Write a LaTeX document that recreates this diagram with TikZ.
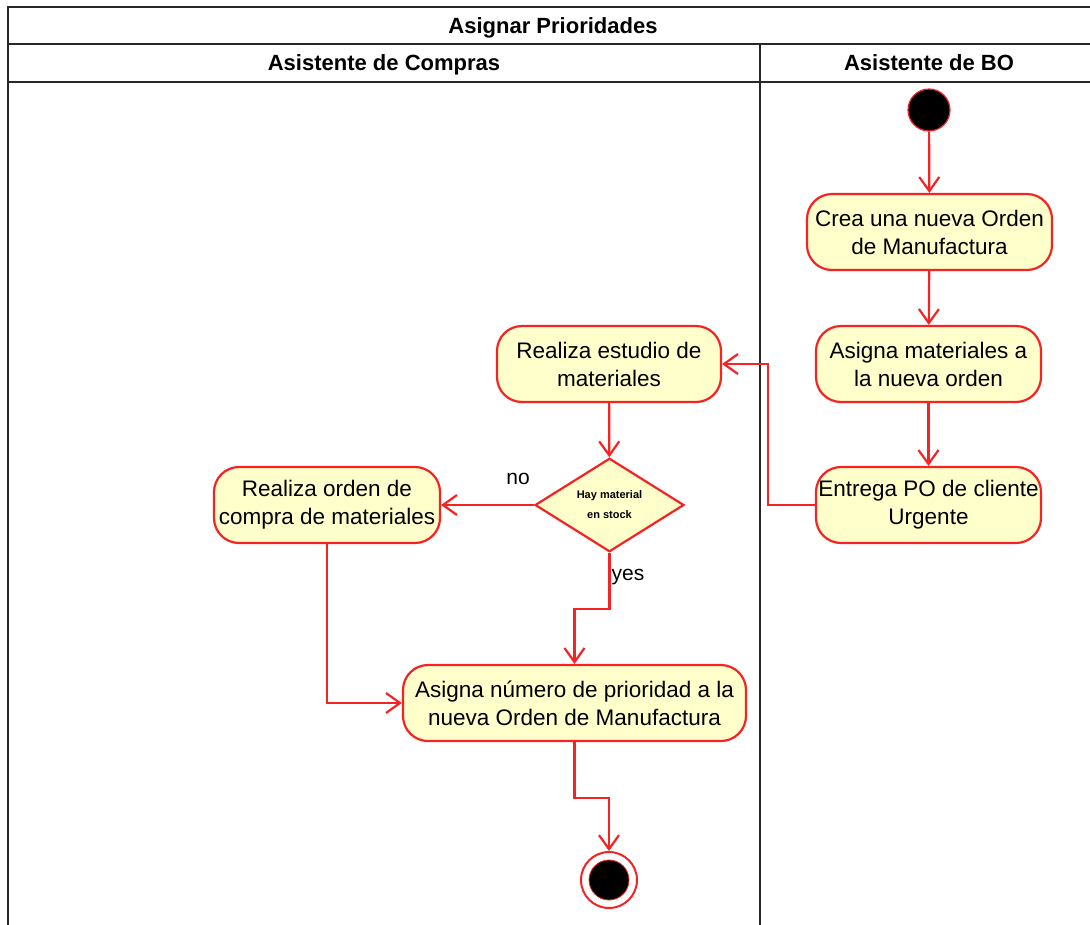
\documentclass[tikz,border=0pt]{standalone}
\usepackage{fontspec}
\setmainfont{Liberation Sans}
\usetikzlibrary{arrows.meta,shapes.geometric}
\definecolor{umlred}{RGB}{245,35,35}
\definecolor{umlfill}{RGB}{255,255,204}
\definecolor{framegray}{RGB}{40,40,40}
\tikzset{
  activity/.style={draw=umlred, line width=2.2pt, fill=umlfill, rounded corners=25pt,
    align=center, inner sep=0pt, font=\fontsize{22.5}{28}\selectfont, text=black},
  decision/.style={draw=umlred, line width=2.2pt, fill=umlfill, diamond, inner sep=0pt,
    minimum width=149pt, minimum height=92pt, align=center,
    font=\bfseries\fontsize{11}{20}\selectfont},
  flow/.style={draw=umlred, line width=2.2pt, -{Straight Barb[length=14pt,width=20pt,line width=2.2pt]}},
  guard/.style={fill=white, inner sep=1pt, font=\fontsize{21}{24}\selectfont},
  frameline/.style={draw=framegray, line width=2pt},
  lanehead/.style={anchor=base, font=\bfseries\fontsize{22}{26}\selectfont}
}
\begin{document}
\begin{tikzpicture}[x=1pt,y=-1pt]
  \useasboundingbox (0,0) rectangle (1090,924);
  \clip (0,0) rectangle (1090,924);
  \fill[white] (0,0) rectangle (1090,924);

  % swimlane frame
  \draw[frameline] (8,940) -- (8,7) -- (1098,7) -- (1098,940);
  \draw[frameline] (8,44) -- (1098,44);
  \draw[frameline] (8,82) -- (1098,82);
  \draw[frameline] (760,44) -- (760,940);
  \node[lanehead] (title) at (553,33) {Asignar Prioridades};
  \node[lanehead] (laneA) at (384,70) {Asistente de Compras};
  \node[lanehead] (laneB) at (929,70) {Asistente de BO};

  % activities
  \node[circle, draw=umlred, line width=1.2pt, fill=black, minimum size=42pt, inner sep=0pt] (start) at (929,110) {};
  \node[activity, minimum width=245pt, minimum height=76pt] (crea) at (929.5,232) {Crea una nueva Orden\\de Manufactura};
  \node[activity, minimum width=225pt, minimum height=76pt] (asigmat) at (928.5,364) {Asigna materiales a\\la nueva orden};
  \node[activity, minimum width=225pt, minimum height=76pt] (entrega) at (928.5,505) {Entrega PO de cliente\\Urgente};
  \node[activity, minimum width=224pt, minimum height=76pt] (estudio) at (609,364) {Realiza estudio de\\materiales};
  \node[decision] (dec) at (609.5,505) {Hay material\\en stock};
  \node[activity, minimum width=226pt, minimum height=76pt] (orden) at (327,505) {Realiza orden de\\compra de materiales};
  \node[activity, minimum width=343pt, minimum height=76pt] (prio) at (574.5,703) {Asigna número de prioridad a la\\nueva Orden de Manufactura};
  \node[circle, draw=umlred, line width=2pt, fill=white, minimum size=56pt, inner sep=0pt] (fin) at (609,880) {};
  \node[circle, draw=umlred, line width=0.8pt, fill=black, minimum size=40pt, inner sep=0pt] (finc) at (fin.center) {};

  % control flows
  \draw[flow] (start) -- (crea);
  \draw[flow] (crea) -- (asigmat);
  \draw[flow] (asigmat) -- (entrega);
  \draw[flow] (entrega.west) -- ++(-47,0) |- (estudio.east);
  \draw[flow] (estudio) -- (dec);
  \draw[flow] (dec.west) -- (orden.east);
  \draw[flow] (dec.south) -- ++(0,56) -| (prio.north);
  \draw[flow] (orden.south) |- (prio.west);
  \draw[flow] (prio.south) -- ++(0,56) -| (fin.north);

  % guards
  \node[guard] (gno) at (518,479) {no};
  \node[guard] (gyes) at (628,577) {yes};
\end{tikzpicture}
\end{document}
